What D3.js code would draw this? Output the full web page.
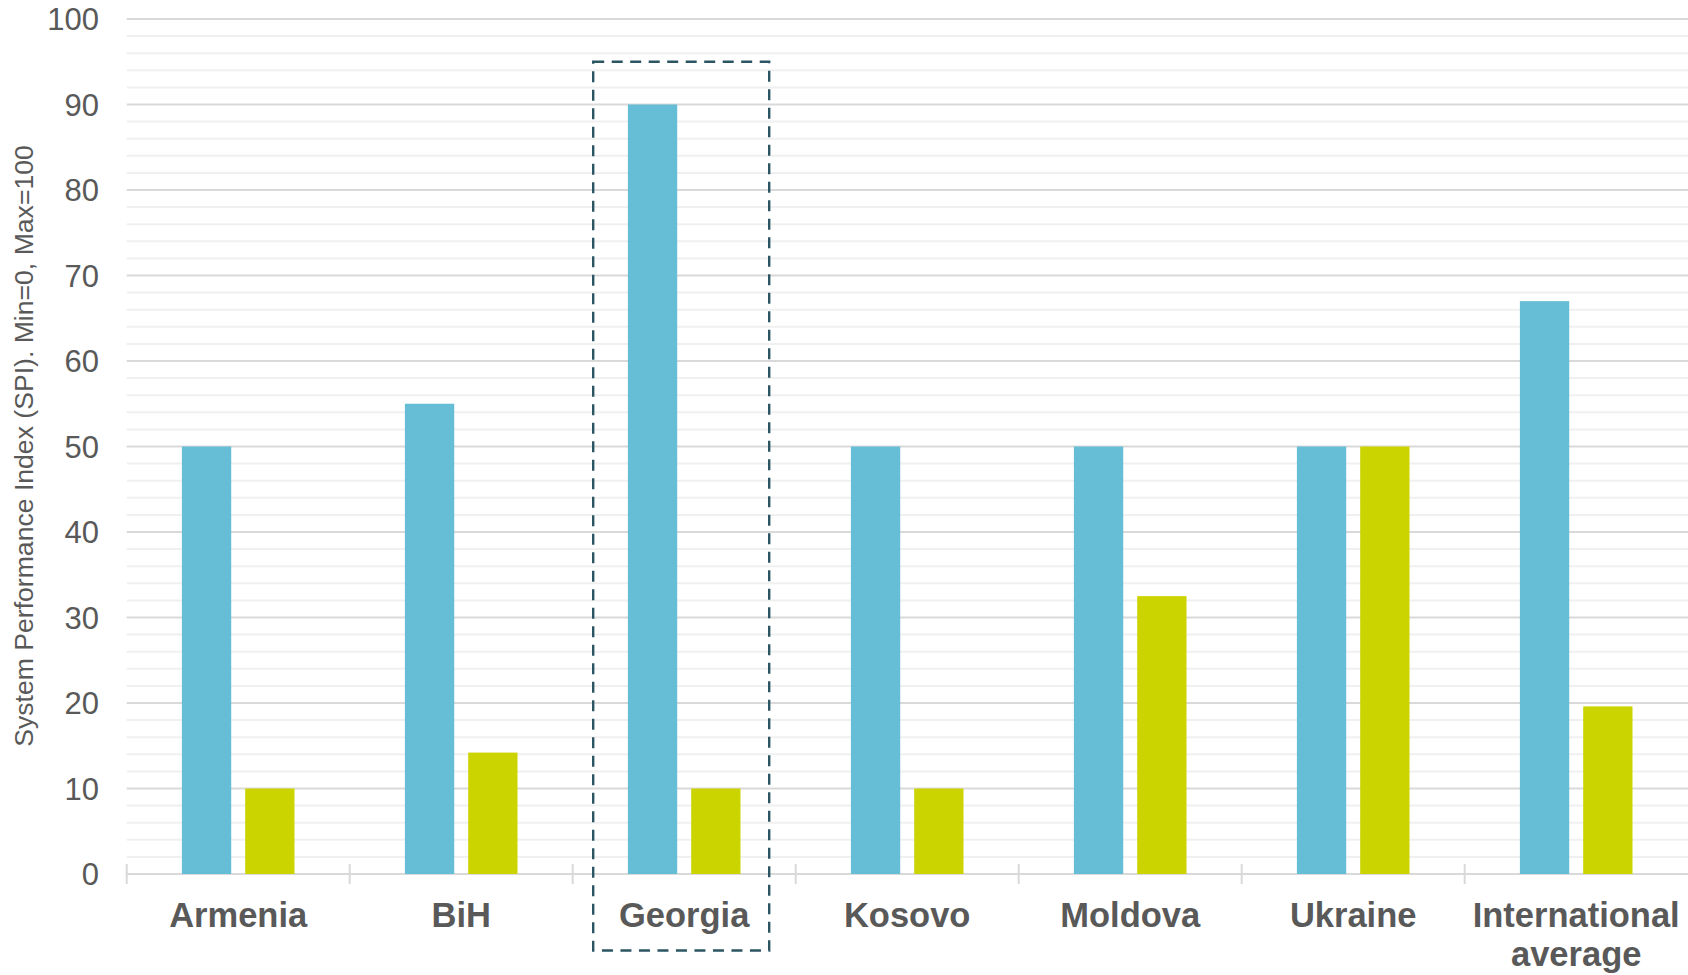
<!DOCTYPE html>
<html>
<head>
<meta charset="utf-8">
<script src="https://cdnjs.cloudflare.com/ajax/libs/d3/7.8.5/d3.min.js"></script>
<style>
  body { margin: 0; background: #fff; }
  svg { display: block; font-family: "Liberation Sans", Arial, sans-serif; }
</style>
</head>
<body>
<svg width="1688" height="975"></svg>
<script>
  // chart data
  var categories = ["Armenia", "BiH", "Georgia", "Kosovo", "Moldova", "Ukraine", "International average"]
  var blueValues = [50, 55, 90, 50, 50, 50, 67]
  var greenValues = [10, 14.2, 10, 10, 32.5, 50, 19.6]
  var yTicks = [0, 10, 20, 30, 40, 50, 60, 70, 80, 90, 100]
  var minorTicks = d3.range(0, 101, 2).filter(function(v) { return v % 10 != 0 })
  var highlighted = "Georgia"
  var highlightTop = 95
  var yTitle = "System Performance Index (SPI). Min=0, Max=100"

  var colors = ["#66bdd6", "#ccd400"]
  var textColor = "#595959"

  var svg = d3.select("svg"),
    width = +svg.attr("width"),
    height = +svg.attr("height");

  // plot area
  var left = 126.7, step = 223

  var x = d3.scaleBand()
    .domain(categories)
    .range([left, left + step * categories.length])
    .padding(0)

  // two bars inside each category
  var xInner = d3.scaleBand()
    .domain([0, 1])
    .range([0, x.bandwidth()])
    .paddingInner(0.221)
    .paddingOuter(0.872)

  var y = d3.scaleLinear()
    .domain([0, 100])
    .range([874, 19])

  //minor gridlines
  svg.append("g")
    .selectAll("line")
    .data(minorTicks)
    .join("line")
      .attr("x1", left)
      .attr("x2", width)
      .attr("y1", function(d) { return y(d) })
      .attr("y2", function(d) { return y(d) })
      .attr("stroke", "#f0f0f0")
      .attr("stroke-width", 2)

  //major gridlines
  svg.append("g")
    .selectAll("line")
    .data(yTicks.slice(1))
    .join("line")
      .attr("x1", left)
      .attr("x2", width)
      .attr("y1", function(d) { return y(d) })
      .attr("y2", function(d) { return y(d) })
      .attr("stroke", "#d9d9d9")
      .attr("stroke-width", 2)

  // x axis line + category tick marks
  var axis = svg.append("g")
  axis.append("line")
    .attr("x1", left)
    .attr("x2", width)
    .attr("y1", y(0))
    .attr("y2", y(0))
    .attr("stroke", "#d9d9d9")
    .attr("stroke-width", 2)
  axis.selectAll(".tick")
    .data(categories)
    .join("line")
      .attr("class", "tick")
      .attr("x1", function(d) { return x(d) })
      .attr("x2", function(d) { return x(d) })
      .attr("y1", y(0) - 10)
      .attr("y2", y(0) + 10)
      .attr("stroke", "#d9d9d9")
      .attr("stroke-width", 2)

  // y tick labels
  svg.append("g")
    .selectAll("text")
    .data(yTicks)
    .join("text")
      .attr("x", 99)
      .attr("y", function(d) { return y(d) })
      .attr("dy", "0.36em")
      .attr("text-anchor", "end")
      .attr("font-size", 31)
      .attr("fill", textColor)
      .text(function(d) { return d })

  // y axis title
  svg.append("text")
    .attr("transform", "translate(33," + 446 + ") rotate(-90)")
    .attr("text-anchor", "middle")
    .attr("font-size", 26.6)
    .attr("fill", textColor)
    .text(yTitle)

  // bars
  var series = [blueValues, greenValues]
  var groups = svg.append("g")
    .selectAll("g")
    .data(categories)
    .join("g")
      .attr("transform", function(d) { return "translate(" + x(d) + ",0)" })

  groups.selectAll("rect")
    .data(function(d, i) { return series.map(function(s, k) { return {k: k, v: s[i]} }) })
    .join("rect")
      .attr("x", function(d) { return xInner(d.k) })
      .attr("width", xInner.bandwidth())
      .attr("y", function(d) { return y(d.v) })
      .attr("height", function(d) { return y(0) - y(d.v) })
      .attr("fill", function(d) { return colors[d.k] })

  // dashed box around the highlighted country
  svg.append("rect")
    .attr("x", x(highlighted) + 20.5)
    .attr("y", y(highlightTop))
    .attr("width", 176)
    .attr("height", y(0) + 76.5 - y(highlightTop))
    .attr("fill", "none")
    .attr("stroke", "#2b5563")
    .attr("stroke-width", 2.4)
    .attr("stroke-dasharray", "11,7.5")

  // category labels
  var labels = svg.append("g")
    .selectAll("text")
    .data(categories)
    .join("text")
      .attr("x", function(d) { return x(d) + x.bandwidth() / 2 })
      .attr("y", 927.3)
      .attr("text-anchor", "middle")
      .attr("font-size", 34.5)
      .attr("font-weight", "bold")
      .attr("fill", textColor)

  labels.selectAll("tspan")
    .data(function(d) { return d.split(" ") })
    .join("tspan")
      .attr("x", function() { return d3.select(this.parentNode).attr("x") })
      .attr("dy", function(d, i) { return i == 0 ? 0 : 39 })
      .text(function(d) { return d })
</script>
</body>
</html>
